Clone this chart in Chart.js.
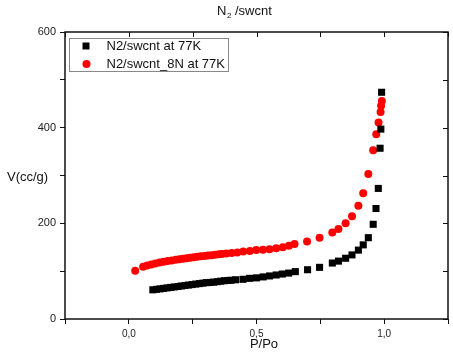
<!DOCTYPE html>
<html>
<head>
<meta charset="utf-8">
<script src="https://cdn.jsdelivr.net/npm/chart.js@4"></script>
<style>
  html, body { margin: 0; padding: 0; background: #fff; }
  #wrap { width: 453px; height: 358px; }
</style>
</head>
<body>
<div id="wrap"><canvas id="isoChart"></canvas></div>
<script>
// relative pressure P/Po and adsorbed volume V (cc/g)
const swcntX = [0.094, 0.108, 0.122, 0.136, 0.150, 0.164, 0.178, 0.192, 0.206, 0.220,
   0.234, 0.248, 0.262, 0.276, 0.290, 0.304, 0.318, 0.332, 0.346, 0.360, 0.374, 0.388,
   0.400, 0.418, 0.447, 0.473, 0.500, 0.526, 0.551, 0.577, 0.601, 0.626, 0.652, 0.700,
   0.747, 0.797, 0.821, 0.849, 0.874, 0.899, 0.918, 0.938, 0.957, 0.968, 0.977, 0.984,
   0.987, 0.990];
const swcntY = [61, 62, 63, 64, 65, 66, 67, 68, 69, 70,
   71, 72, 73, 74, 75, 76, 76.5, 77, 78, 79, 80, 80.5,
   81, 82, 83, 85, 86, 88, 90, 92, 94, 96, 99, 103,
   108, 117, 121, 127, 134, 144, 155, 170, 198, 231, 273, 357,
   397, 474];

const swcnt8NX = [0.025, 0.056, 0.072, 0.088, 0.104, 0.120, 0.136, 0.152, 0.168, 0.184,
   0.198, 0.212, 0.226, 0.240, 0.254, 0.268, 0.282, 0.296, 0.310, 0.324, 0.338, 0.352,
   0.364, 0.382, 0.403, 0.425, 0.448, 0.474, 0.499, 0.525, 0.551, 0.577, 0.603, 0.627,
   0.649, 0.698, 0.747, 0.797, 0.821, 0.849, 0.874, 0.899, 0.918, 0.938, 0.957, 0.969,
   0.978, 0.986, 0.988, 0.991];
const swcnt8NY = [101, 109, 112, 114, 116, 118, 119.5, 121, 122.5, 124,
   125, 126, 127, 128, 129, 130, 131, 131.5, 132.5, 133.5, 134.5, 135.5,
   136, 137, 138, 139, 141, 142, 144, 145, 146, 148, 150, 153,
   157, 162, 170, 181, 188, 200, 215, 237, 263, 303, 353, 386,
   411, 433, 446, 456];

const seriesLabels = ['N2/swcnt at 77K', 'N2/swcnt_8N at 77K'];
const xTicks = [0.0, 0.5, 1.0];
const yTicks = [0, 200, 400, 600];

const toPoints = (xs, ys) => xs.map((x, i) => ({ x: x, y: ys[i] }));

const FONT = 'Arial, "Liberation Sans", sans-serif';

const framePlugin = {
   id: 'frame',
   afterDraw(chart) {
      const c = chart.ctx;
      const a = chart.chartArea;
      const xs = chart.scales.x;
      const ys = chart.scales.y;
      c.save();

      // box around plot
      c.strokeStyle = '#111';
      c.lineWidth = 1.5;
      c.strokeRect(a.left, a.top, a.right - a.left, a.bottom - a.top);

      // inward ticks on top and right sides
      c.lineWidth = 1;
      c.beginPath();
      xs.ticks.forEach(t => {
         const px = Math.round(xs.getPixelForValue(t.value)) + 0.5;
         c.moveTo(px, a.top);
         c.lineTo(px, a.top + 5);
      });
      ys.ticks.forEach(t => {
         const py = Math.round(ys.getPixelForValue(t.value)) + 0.5;
         c.moveTo(a.right, py);
         c.lineTo(a.right - 5, py);
      });
      c.stroke();

      // title
      c.fillStyle = '#111';
      c.textBaseline = 'alphabetic';
      c.font = '13px ' + FONT;
      let tx = 217;
      c.textAlign = 'left';
      c.fillText('N', tx, 15);
      tx += c.measureText('N').width + 0.5;
      c.font = '8px ' + FONT;
      c.fillText('2', tx, 18);
      tx += c.measureText('2').width;
      c.font = '13px ' + FONT;
      c.fillText(' /swcnt', tx, 15);

      // axis titles
      c.textBaseline = 'middle';
      c.textAlign = 'left';
      c.fillText('V(cc/g)', 7, 177);
      c.textAlign = 'center';
      c.fillText('P/Po', 264, 344);

      // legend
      const lx = a.left + 4.5, ly = a.top + 6.5;
      c.strokeStyle = '#888';
      c.lineWidth = 1;
      c.strokeRect(lx, ly, 159, 33);
      c.textAlign = 'left';
      c.font = '13px ' + FONT;
      chart.data.datasets.forEach((ds, i) => {
         const my = ly + 7.5 + i * 18;
         c.fillStyle = ds.backgroundColor;
         if (ds.pointStyle === 'rect') {
            c.fillRect(lx + 13, my - 3.5, 7, 7);
         } else {
            c.beginPath();
            c.arc(lx + 17, my, 4, 0, Math.PI * 2);
            c.fill();
         }
         c.fillStyle = '#111';
         c.fillText(ds.label, lx + 37, my + 0.5);
      });
      c.restore();
   }
};

new Chart(document.getElementById('isoChart'), {
   type: 'scatter',
   data: {
      datasets: [
         {
            label: seriesLabels[0],
            data: toPoints(swcntX, swcntY),
            pointStyle: 'rect',
            pointRadius: 5,
            backgroundColor: '#000000',
            borderColor: '#000000',
            borderWidth: 0,
         },
         {
            label: seriesLabels[1],
            data: toPoints(swcnt8NX, swcnt8NY),
            pointStyle: 'circle',
            pointRadius: 4,
            backgroundColor: '#ff0000',
            borderColor: '#ff0000',
            borderWidth: 0,
         },
      ],
   },
   options: {
      responsive: true,
      maintainAspectRatio: false,
      animation: false,
      layout: { padding: { top: 32, right: 4, left: 0, bottom: 0 } },
      plugins: {
         legend: { display: false },
         tooltip: { enabled: false },
      },
      scales: {
         x: {
            type: 'linear',
            min: -0.25,
            max: 1.25,
            afterFit: s => { s.height = 39; },
            ticks: {
               stepSize: 0.25,
               padding: 4,
               color: '#222',
               font: { size: 10, family: FONT },
               maxRotation: 0,
               callback: v => {
                  const hit = xTicks.find(t => Math.abs(t - v) < 1e-6);
                  return hit === undefined ? '' : hit.toFixed(1).replace('.', ',');
               },
            },
            grid: { drawOnChartArea: false, tickLength: 5, color: '#111' },
            border: { display: false },
         },
         y: {
            min: 0,
            max: 600,
            afterFit: s => { s.width = 65; },
            ticks: {
               stepSize: 100,
               padding: 4,
               color: '#222',
               font: { size: 11, family: FONT },
               callback: v => (yTicks.includes(v) ? String(v) : ''),
            },
            grid: { drawOnChartArea: false, tickLength: 5, color: '#111' },
            border: { display: false },
         },
      },
   },
   plugins: [framePlugin],
});
</script>
</body>
</html>
